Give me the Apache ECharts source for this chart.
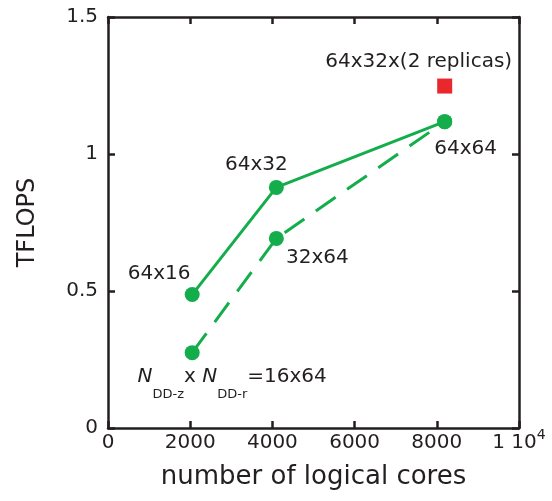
<!DOCTYPE html>
<html><head><meta charset="utf-8">
<script src="https://cdn.jsdelivr.net/npm/echarts@6/dist/echarts.min.js"></script>
<style>html,body{margin:0;padding:0;background:#fff}#c{width:552px;height:501px}</style>
</head><body><div id="c"></div>
<script>
// ---- data ----
const cores = [2048, 4096, 8192];
const solidValues = [0.487, 0.878, 1.118];          // 64x16, 64x32, 64x64
const solidLabels = ['64x16', '64x32', '64x64'];
const dashedValues = [0.275, 0.692, 1.118];         // 16x64, 32x64, 64x64
const dashedLabels = ['NDD-z x NDD-r=16x64', '32x64', ''];
const replicaCores = [8192];
const replicaValues = [1.248];
const replicaLabels = ['64x32x(2 replicas)'];
const xTickValues = [0, 2000, 4000, 6000, 8000, 10000];
const yTickValues = [0, 0.5, 1, 1.5];

// ---- styling ----
const GREEN = '#13ad4b', RED = '#e8282c', INK = '#231f20';
const FONT = 'DejaVu Sans';
const solidOffsets = [[-33, -21], [-20, -23], [21, 27]];
const dashedOffsets = [[40, 42], [41, 19], [0, 0]];
const replicaOffsets = [[-26, -24]];

function richN(s) {
  if (s.indexOf('NDD') !== 0) return s;
  return '{n|N}{sub|DD-z}{t|x }{n|N}{sub|DD-r}{t|=16x64}';
}
function items(xs, ys, labels, offsets) {
  return xs.map((x, i) => ({
    value: [x, ys[i]],
    label: { show: labels[i] !== '', formatter: richN(labels[i]), offset: offsets[i] }
  }));
}
const labelBase = {
  position: 'inside', align: 'center', verticalAlign: 'middle',
  color: INK, fontFamily: FONT, fontSize: 20,
  rich: {
    n: { fontFamily: FONT, fontSize: 20, fontStyle: 'italic', color: INK, lineHeight: 24, verticalAlign: 'top' },
    t: { fontFamily: FONT, fontSize: 20, color: INK, lineHeight: 24, verticalAlign: 'top' },
    sub: { fontFamily: FONT, fontSize: 13, color: INK, lineHeight: 56 }
  }
};
const axisLineStyle = { color: INK, width: 2.5 };
const tickStyle = { show: true, inside: true, length: 7, lineStyle: { color: INK, width: 2.5 } };

const chart = echarts.init(document.getElementById('c'), null, { renderer: 'canvas' });
chart.setOption({
  animation: false,
  backgroundColor: '#fff',
  grid: { left: 108, right: 33, top: 17, bottom: 73, containLabel: false },
  xAxis: [{
    type: 'value', min: xTickValues[0], max: xTickValues[xTickValues.length - 1], interval: 2000,
    name: 'number of logical cores', nameLocation: 'middle', nameGap: 36,
    nameTextStyle: { fontFamily: FONT, fontSize: 26, color: INK },
    axisLine: { show: true, lineStyle: axisLineStyle },
    axisTick: tickStyle, splitLine: { show: false },
    axisLabel: {
      margin: 0, fontFamily: FONT, fontSize: 20, color: INK,
      formatter: v => v === 10000 ? '{m|1 10}{sup|4}' : '{m|' + v + '}',
      rich: {
        m: { fontFamily: FONT, fontSize: 20, color: INK, lineHeight: 30 },
        sup: { fontFamily: FONT, fontSize: 14, color: INK, lineHeight: 14, verticalAlign: 'top' }
      }
    }
  }, {
    type: 'value', position: 'top', min: xTickValues[0], max: xTickValues[xTickValues.length - 1], interval: 2000,
    axisLine: { show: true, onZero: false, lineStyle: axisLineStyle },
    axisTick: tickStyle, axisLabel: { show: false }, splitLine: { show: false }
  }],
  yAxis: [{
    type: 'value', min: yTickValues[0], max: yTickValues[yTickValues.length - 1], interval: 0.5,
    name: 'TFLOPS', nameLocation: 'middle', nameGap: 68,
    nameTextStyle: { fontFamily: FONT, fontSize: 24, color: INK },
    axisLine: { show: true, lineStyle: axisLineStyle },
    axisTick: tickStyle, splitLine: { show: false },
    axisLabel: { margin: 10, fontFamily: FONT, fontSize: 20, color: INK, formatter: v => String(v) }
  }, {
    type: 'value', position: 'right', min: yTickValues[0], max: yTickValues[yTickValues.length - 1], interval: 0.5,
    axisLine: { show: true, onZero: false, lineStyle: axisLineStyle },
    axisTick: tickStyle, axisLabel: { show: false }, splitLine: { show: false }
  }],
  series: [{
    type: 'line', data: items(cores, solidValues, solidLabels, solidOffsets),
    symbol: 'circle', symbolSize: 15, itemStyle: { color: GREEN, opacity: 1 },
    lineStyle: { color: GREEN, width: 3 }, label: labelBase, z: 3
  }, {
    type: 'line', data: items(cores, dashedValues, dashedLabels, dashedOffsets),
    symbol: 'circle', symbolSize: 15, itemStyle: { color: GREEN, opacity: 1 },
    lineStyle: { color: GREEN, width: 3, type: [24, 14] }, label: labelBase, z: 2
  }, {
    type: 'scatter', data: items(replicaCores, replicaValues, replicaLabels, replicaOffsets),
    symbol: 'rect', symbolSize: 15, itemStyle: { color: RED, opacity: 1 }, label: labelBase, z: 3
  }]
});
</script></body></html>
